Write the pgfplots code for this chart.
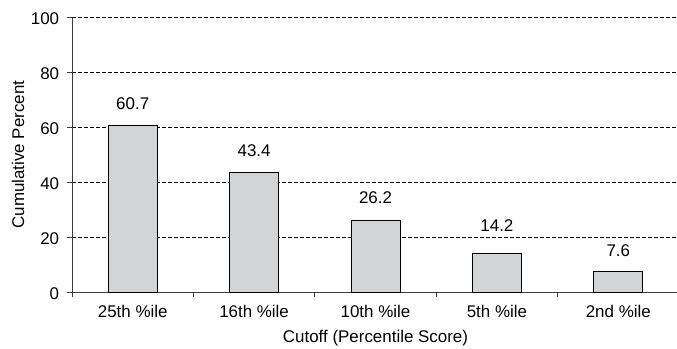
\documentclass[border=0pt]{standalone}
\usepackage{fontspec}
\setmainfont{Liberation Sans}
\usepackage{pgfplots}
\usepackage{pgfplotstable}
\pgfplotsset{compat=1.18}
\definecolor{barfill}{RGB}{211,212,214}
\definecolor{axisgray}{RGB}{60,60,60}
\pgfplotstableread{
x y s
0 60.7 16
1 43.4 16.5
2 26.2 16
3 14.2 21.5
4 7.6 15
}\datatable
\begin{document}
\fontsize{17}{20}\selectfont
\begin{tikzpicture}
\begin{axis}[
  at={(0,0)}, anchor=south west,
  scale only axis, width=607bp, height=275bp,
  xmin=-0.5, xmax=4.5, ymin=0, ymax=100,
  axis lines=left, axis line style={-, line width=1pt, axisgray},
  ytick={0,20,...,100},
  ymajorgrids, grid style={black, line width=0.75pt, dash pattern=on 4bp off 2bp},
  xtick={0,...,4},
  xticklabels={25th \%ile,16th \%ile,10th \%ile,5th \%ile,2nd \%ile},
  major x tick style={draw=none},
  minor xtick={-0.5,0.5,1.5,2.5,3.5,4.5},
  minor x tick style={line width=1pt, axisgray},
  minor tick length=5bp,
  major tick length=5bp,
  ytick style={line width=1pt, axisgray},
  tick align=outside,
  ybar, bar width=49bp,
  nodes near coords={\pgfmathprintnumber[fixed, fixed zerofill, precision=1]{\pgfplotspointmeta}},
  /pgf/number format/assume math mode=true,
  xlabel={Cutoff (Percentile Score)}, ylabel={Cumulative Percent},
  xlabel style={at={(axis description cs:0.5,0)}, anchor=base, yshift=-50.7bp},
  ylabel style={at={(axis description cs:-0.089,0.5)}, anchor=center},
  xticklabel style={anchor=base, yshift=-20bp},
  yticklabel style={xshift=-2bp, yshift=-1.5bp},
  font=\fontsize{17}{20}\selectfont,
  tick label style={font=\fontsize{17}{20}\selectfont},
  label style={font=\fontsize{17}{20}\selectfont},
]
\addplot[fill=barfill, draw=black, line width=0.8pt,
  visualization depends on={\thisrow{s} \as \myshift},
  every node near coord/.append style={anchor=base, yshift=\myshift bp}]
  table[x=x, y=y] {\datatable};
\end{axis}
\pgfresetboundingbox
\path[use as bounding box] (-72bp,-57bp) rectangle (605bp,292bp);
\end{tikzpicture}
\end{document}
